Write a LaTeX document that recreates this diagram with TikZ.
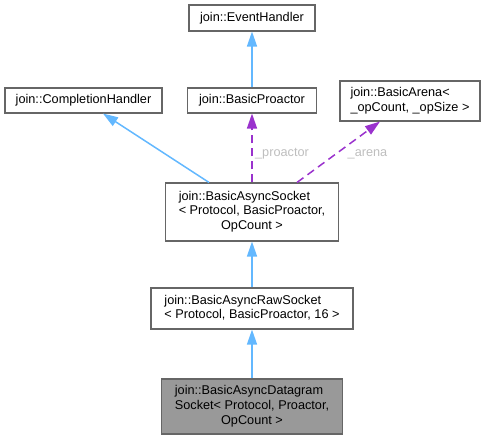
\documentclass[tikz,border=0pt]{standalone}
\usepackage{fontspec}
\setmainfont{Liberation Sans}
\usetikzlibrary{arrows.meta}
\definecolor{edgeblue}{HTML}{63B8FF}
\definecolor{edgepurple}{HTML}{9A32CD}
\definecolor{boxborder}{HTML}{666666}
\definecolor{boxfill}{HTML}{999999}
\definecolor{lblgrey}{HTML}{BEBEBE}
\tikzset{
  cls/.style={draw=boxborder, line width=1.1pt, fill=white, inner sep=0pt,
    font=\fontsize{12.7}{14.6}\selectfont, text=black},
  cur/.style={cls, fill=boxfill},
  inh/.style={draw=edgeblue, line width=1.5pt,
    -{Triangle[length=15pt,width=10pt]}},
  use/.style={draw=edgepurple, line width=1.5pt, dash pattern=on 8pt off 5pt,
    -{Triangle[length=15pt,width=10pt]}},
  lbl/.style={text=lblgrey, font=\fontsize{12.7}{14.6}\selectfont, inner sep=0pt}
}
\newcommand{\tl}[1]{\begin{tabular}{@{}l@{}}#1\end{tabular}}
\newcommand{\cl}[1]{\multicolumn{1}{@{}c@{}}{#1}}
\begin{document}
\begin{tikzpicture}[x=1pt,y=-1pt]
\useasboundingbox (0,0) rectangle (486,440);
\node[cls, minimum width=126pt, minimum height=26pt] (EH) at (252,18) {join::EventHandler};
\node[cls, minimum width=157pt, minimum height=25pt] (CH) at (83.5,100.5) {join::CompletionHandler};
\node[cls, minimum width=129pt, minimum height=25pt] (BP) at (252,100.5) {join::BasicProactor};
\node[cls, minimum width=140pt, minimum height=40pt] (BA) at (410,101) {\tl{join::BasicArena<\\ \_opCount, \_opSize >}};
\node[cls, minimum width=173pt, minimum height=58pt] (BAS) at (252,212) {\tl{join::BasicAsyncSocket\\< Protocol, BasicProactor,\\\cl{OpCount >}}};
\node[cls, minimum width=202pt, minimum height=41pt] (RAW) at (252,308.5) {\tl{join::BasicAsyncRawSocket\\< Protocol, BasicProactor, 16 >}};
\node[cur, minimum width=181pt, minimum height=55pt] (DG) at (252,406.5) {\tl{join::BasicAsyncDatagram\\Socket< Protocol, Proactor,\\\cl{OpCount >}}};

\draw[inh] (BP.north) -- (EH.south);
\draw[inh] ([xshift=-43pt]BAS.north) -- ([xshift=19.5pt]CH.south);
\draw[use] (BAS.north) -- (BP.south);
\draw[use] ([xshift=45pt]BAS.north) -- ([xshift=-30pt]BA.south);
\draw[inh] (RAW.north) -- (BAS.south);
\draw[inh] (DG.north) -- (RAW.south);

\node[lbl] (lp) at (282,154) {\_proactor};
\node[lbl] (la) at (367.5,154) {\_arena};
\end{tikzpicture}
\end{document}
